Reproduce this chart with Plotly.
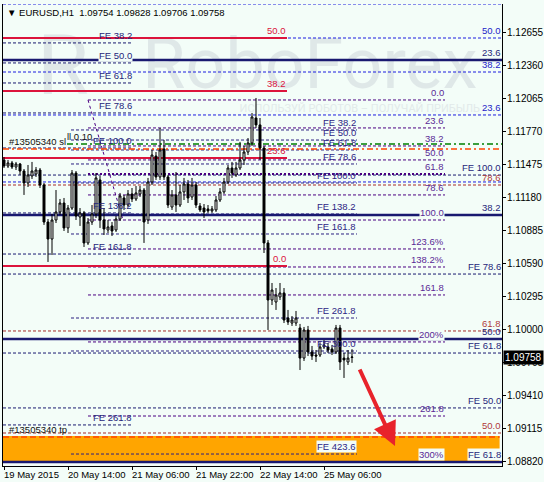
import plotly.graph_objects as go

# ---------------- data (EURUSD H1) ----------------
bars = list(range(88))
opens = [1.11520, 1.11466, 1.11493, 1.11457, 1.11484, 1.11421, 1.11314, 1.11377, 1.11394, 1.11430,
         1.11296, 1.10965, 1.10813, 1.10983, 1.11055, 1.11135, 1.10912, 1.11090, 1.11403, 1.11010,
         1.11046, 1.10778, 1.10965, 1.11037, 1.11341, 1.10983, 1.10894, 1.10930, 1.10894, 1.10992,
         1.11180, 1.11117, 1.11216, 1.11171, 1.11216, 1.11251, 1.10983, 1.11323, 1.11555, 1.11368,
         1.11618, 1.11368, 1.11099, 1.11207, 1.11117, 1.11234, 1.11305, 1.11189, 1.11296, 1.11108,
         1.11090, 1.11082, 1.11064, 1.11073, 1.11162, 1.11234, 1.11323, 1.11448, 1.11386, 1.11448,
         1.11520, 1.11591, 1.11672, 1.11895, 1.11833, 1.11627, 1.10778, 1.10268, 1.10250, 1.10295,
         1.10331, 1.10107, 1.10062, 1.10062, 1.10018, 1.09749, 1.10000, 1.09803, 1.09776, 1.09776,
         1.09848, 1.09848, 1.09830, 1.09803, 1.10018, 1.09749, 1.09714, 1.09754]
highs = [1.11546, 1.11520, 1.11511, 1.11502, 1.11493, 1.11439, 1.11475, 1.11502, 1.11457, 1.11448,
         1.11314, 1.10992, 1.11037, 1.11251, 1.11171, 1.11180, 1.11117, 1.11430, 1.11421, 1.11090,
         1.11064, 1.11001, 1.11117, 1.11403, 1.11377, 1.11090, 1.10983, 1.10965, 1.11019, 1.11225,
         1.11207, 1.11251, 1.11269, 1.11287, 1.11287, 1.11269, 1.11359, 1.11609, 1.11591, 1.11806,
         1.11698, 1.11386, 1.11251, 1.11412, 1.11296, 1.11359, 1.11341, 1.11359, 1.11323, 1.11135,
         1.11126, 1.11117, 1.11108, 1.11198, 1.11269, 1.11359, 1.11475, 1.11502, 1.11502, 1.11681,
         1.11645, 1.11716, 1.11940, 1.12074, 1.11895, 1.11645, 1.10804, 1.10420, 1.10375, 1.10420,
         1.10375, 1.10179, 1.10125, 1.10170, 1.10054, 1.10027, 1.10036, 1.09857, 1.09821, 1.09884,
         1.09910, 1.09884, 1.09866, 1.10045, 1.10045, 1.09794, 1.09821, 1.09828]
lows = [1.11448, 1.11448, 1.11439, 1.11430, 1.11386, 1.11207, 1.11278, 1.11350, 1.11368, 1.11269,
        1.10939, 1.10608, 1.10670, 1.10956, 1.11028, 1.10885, 1.10867, 1.11073, 1.10983, 1.10930,
        1.10742, 1.10760, 1.10939, 1.11001, 1.10912, 1.10849, 1.10867, 1.10840, 1.10876, 1.10974,
        1.11073, 1.11099, 1.11144, 1.11153, 1.11189, 1.10778, 1.10948, 1.11296, 1.11341, 1.11341,
        1.11341, 1.11090, 1.11073, 1.11055, 1.11099, 1.11162, 1.11135, 1.11162, 1.11090, 1.11055,
        1.11001, 1.11046, 1.11046, 1.11055, 1.11144, 1.11216, 1.11305, 1.11359, 1.11368, 1.11430,
        1.11475, 1.11564, 1.11645, 1.11806, 1.11520, 1.10688, 1.10000, 1.10223, 1.10179, 1.10268,
        1.10062, 1.10045, 1.10036, 1.10036, 1.09642, 1.09723, 1.09767, 1.09732, 1.09714, 1.09758,
        1.09830, 1.09794, 1.09776, 1.09785, 1.09642, 1.09571, 1.09687, 1.09706]
closes = [1.11466, 1.11493, 1.11457, 1.11484, 1.11421, 1.11314, 1.11386, 1.11421, 1.11430, 1.11296,
          1.10965, 1.10813, 1.10983, 1.11055, 1.11135, 1.10912, 1.11090, 1.11403, 1.11019, 1.11046,
          1.10778, 1.10965, 1.11037, 1.11359, 1.10983, 1.10903, 1.10921, 1.10885, 1.10992, 1.11198,
          1.11117, 1.11216, 1.11171, 1.11225, 1.11251, 1.10965, 1.11323, 1.11564, 1.11368, 1.11609,
          1.11368, 1.11117, 1.11207, 1.11117, 1.11234, 1.11305, 1.11180, 1.11296, 1.11117, 1.11073,
          1.11055, 1.11064, 1.11082, 1.11162, 1.11234, 1.11323, 1.11448, 1.11403, 1.11448, 1.11520,
          1.11591, 1.11672, 1.11904, 1.11833, 1.11627, 1.10778, 1.10268, 1.10357, 1.10313, 1.10331,
          1.10089, 1.10071, 1.10089, 1.10107, 1.09749, 1.10000, 1.09803, 1.09767, 1.09767, 1.09848,
          1.09866, 1.09821, 1.09803, 1.10018, 1.09714, 1.09732, 1.09749, 1.09758]

time_tick_bars = [0, 16, 32, 48, 64, 80]
time_tick_labels = ["19 May 2015", "20 May 14:00", "21 May 06:00", "21 May 22:00",
                    "22 May 14:00", "25 May 06:00"]
price_ticks = [1.12655, 1.12360, 1.12065, 1.11770, 1.11475, 1.11180, 1.10885,
               1.10590, 1.10295, 1.10000, 1.09705, 1.09410, 1.09115, 1.08820]
last_price = 1.09758

# Fibonacci objects (level prices and their labels)
red_levels = [1.12610, 1.12136, 1.11537, 1.10572]
red_labels = ["50.0", "38.2", "23.6", "0.0"]
blue_levels = [1.12914, 1.12610, 1.12306, 1.11922, 1.11323]
blue_labels = ["", "50.0", "38.2", "23.6", ""]
navy_levels = [1.12414, 1.11028, 1.09919, 1.08820]
navy_labels = ["23.6", "38.2", "50.0", "FE 61.8"]
purple_levels = [1.12056, 1.11806, 1.11645, 1.11520, 1.11394, 1.11207, 1.10983,
                 1.10724, 1.10563, 1.10313, 1.09893, 1.09231, 1.08820]
purple_labels = ["0.0", "23.6", "38.2", "50.0", "61.8", "78.6", "100.0",
                 "123.6%", "138.2%", "161.8", "200%", "261.8", "300%"]
brown_levels = [1.11296, 1.09991, 1.09079]
brown_labels = ["78.6", "61.8", "50.0"]
fe_left_levels = [1.12566, 1.12387, 1.12208, 1.11940, 1.11627, 1.11046, 1.10679, 1.09151]
fe_left_labels = ["FE 38.2", "FE 50.0", "FE 61.8", "FE 78.6", "FE 100.0", "FE 138.2", "FE 161.8", "FE 261.8"]
fe_mid_levels = [1.11788, 1.11698, 1.11609, 1.11484, 1.11314, 1.11037, 1.10858, 1.10107, 1.09812, 1.08891]
fe_mid_labels = ["FE 38.2", "FE 50.0", "FE 61.8", "FE 78.6", "FE 100.0", "FE 138.2",
                 "FE 161.8", "FE 261.8", "FE 300.0", "FE 423.6"]
fe_right_levels = [1.11385, 1.10500, 1.09794, 1.09303]
fe_right_labels = ["FE 100.0", "FE 78.6", "FE 61.8", "FE 50.0"]
sl_price = 1.11618
sell_price = 1.11663
tp_price = 1.09043
tp_zone = [1.08811, 1.09052]
fib_trend = ([21.0, 29.75], [1.12056, 1.10983])
arrow_from = (88.75, 1.09660)
arrow_to = (97.75, 1.08963)

# ---------------- styling ----------------
FONT = "Liberation Sans"
LBL = 9.5
BG = "#f3fdf8"
RED = "#dc143c"
NAVY = "#191970"
FE_TXT = "#26267a"
BLUE = "#1c1ce0"
PURPLE = "#4b0082"
PURPLE_TXT = "#5a2a96"
BROWN = "#a52a2a"
BROWN_TXT = "#b03a3a"

X0, X1 = -0.25, 124.5
LEFT_FE_END = 32.25
MID_FE = (16.75, 88.25)
PURP = (21.0, 110.25)
RED_END = 70.75
RIGHT = 124.5

shapes = []
annotations = []


def hline(y, x0, x1, color, width=1, dash="3px,2px"):
    shapes.append(dict(type="line", xref="x", yref="y", x0=x0, x1=x1, y0=y, y1=y,
                       line=dict(color=color, width=width, dash=dash), layer="below"))


def label(text, x, y, color, bg=None, anchor="right"):
    if not text:
        return
    annotations.append(dict(x=x, y=y, xref="x", yref="y", text=text, showarrow=False,
                            xanchor=anchor, yanchor="bottom", yshift=1,
                            font=dict(family=FONT, size=LBL, color=color),
                            bgcolor=bg if bg else "rgba(0,0,0,0)", borderpad=0))


# watermark
shapes.append(dict(type="rect", xref="paper", yref="paper", x0=0.26, x1=0.97, y0=0.80, y1=0.96,
                   line=dict(width=0), fillcolor="rgba(0,0,0,0)", layer="below",
                   label=dict(text="RoboForex", font=dict(family="Roboto", size=70, color="#dfe8e8"),
                              textposition="middle center")))
shapes.append(dict(type="rect", xref="paper", yref="paper", x0=0.05, x1=0.19, y0=0.80, y1=0.96,
                   line=dict(width=0), fillcolor="rgba(0,0,0,0)", layer="below",
                   label=dict(text="R", font=dict(family="Roboto", size=84, color="#dfe8e8"),
                              textposition="middle center")))
shapes.append(dict(type="rect", xref="paper", yref="paper", x0=0.46, x1=0.97, y0=0.76, y1=0.79,
                   line=dict(width=0), fillcolor="rgba(0,0,0,0)", layer="below",
                   label=dict(text="ИСПОЛЬЗУЙ РОБОТОВ – ПОЛУЧАЙ ПРИБЫЛЬ",
                              font=dict(family="Roboto", size=11, color="#e2eaea"),
                              textposition="middle center")))

# take-profit zone
shapes.append(dict(type="rect", xref="x", yref="y", x0=X0, x1=123.9, y0=tp_zone[0], y1=tp_zone[1],
                   fillcolor="#ffa500", line=dict(width=0), layer="below"))

# blue retracement
for lv, lb in zip(blue_levels, blue_labels):
    hline(lv, X0, RIGHT, BLUE)
    label(lb, RIGHT, lv, "#2323c8")
# brown retracement
for lv, lb in zip(brown_levels, brown_labels):
    hline(lv, X0, RIGHT, BROWN)
    label(lb, RIGHT, lv, BROWN_TXT)
# right FE
for lv, lb in zip(fe_right_levels, fe_right_labels):
    hline(lv, X0, RIGHT, NAVY)
    label(lb, RIGHT, lv, FE_TXT)
# left FE
for lv, lb in zip(fe_left_levels, fe_left_labels):
    hline(lv, X0, LEFT_FE_END, NAVY)
    label(lb, LEFT_FE_END, lv, FE_TXT, bg=BG if lb == "FE 50.0" else None)
# middle FE
for lv, lb in zip(fe_mid_levels, fe_mid_labels):
    hline(lv, MID_FE[0], MID_FE[1], "#2a1f80")
    label(lb, MID_FE[1], lv, "#2e2484",
          bg=BG if lb in ("FE 138.2", "FE 423.6") else None)
# purple retracement / expansion
for lv, lb in zip(purple_levels, purple_labels):
    if lb == "61.8":
        hline(lv, PURP[0], PURP[1], PURPLE, width=2, dash="2px,2px")
    else:
        hline(lv, PURP[0], PURP[1], PURPLE)
    label(lb, PURP[1], lv, PURPLE_TXT,
          bg=BG if lb in ("100.0", "200%", "300%") else None)
shapes.append(dict(type="line", xref="x", yref="y", x0=fib_trend[0][0], x1=fib_trend[0][1],
                   y0=fib_trend[1][0], y1=fib_trend[1][1],
                   line=dict(color=PURPLE, width=1, dash="dot"), layer="below"))
# red solid
for lv, lb in zip(red_levels, red_labels):
    hline(lv, X0, RED_END, RED, width=2, dash="solid")
    label(lb, RED_END, lv, RED)
# navy solid
for lv, lb in zip(navy_levels, navy_labels):
    hline(lv, X0, RIGHT, NAVY, width=2.5, dash="solid")
    label(lb, RIGHT, lv, FE_TXT, bg=BG if lb == "FE 61.8" else None)

# order lines
hline(sell_price, 15.75, RIGHT, "#008000", width=1.5, dash="6px,3px,2px,3px")
hline(sl_price, X0, RIGHT, "#ff4500", width=1.5, dash="6px,3px,2px,3px")
hline(tp_price, X0, 123.9, "#ff4500", width=1.5, dash="6px,3px")
label("#13505340 sl", 1.0, sl_price, "#101010", anchor="left")
label("ll 0.10", 15.6, sell_price, "#101010", anchor="left")
label("#13505340 tp", 1.0, tp_price, "#101010", anchor="left")

# time labels (left-aligned at tick like the terminal)
for b, t in zip(time_tick_bars, time_tick_labels):
    annotations.append(dict(x=b, y=0, xref="x", yref="paper", text=t, showarrow=False,
                            xanchor="left", yanchor="top", xshift=-2, yshift=-1,
                            font=dict(family=FONT, size=LBL, color="#000000")))

# price labels (left-aligned next to the right axis)
for p in price_ticks:
    annotations.append(dict(x=1, y=p, xref="paper", yref="y", text=f"{p:.5f}", showarrow=False,
                            xanchor="left", yanchor="middle", xshift=3,
                            font=dict(family=FONT, size=10, color="#000000")))

# header
annotations.append(dict(x=0, y=1, xref="paper", yref="paper", xanchor="left", yanchor="top",
                        xshift=2, yshift=-1, showarrow=False,
                        text="▼ EURUSD,H1  1.09754 1.09828 1.09706 1.09758",
                        font=dict(family=FONT, size=LBL, color="#000000")))

# last price tag
annotations.append(dict(x=1, y=last_price, xref="paper", yref="y", xanchor="left", yanchor="middle",
                        xshift=1, showarrow=False, text="1.09758", bgcolor="#000000", borderpad=1,
                        font=dict(family=FONT, size=10, color="#ffffff")))

# red arrow
annotations.append(dict(x=arrow_to[0], y=arrow_to[1], ax=arrow_from[0], ay=arrow_from[1],
                        xref="x", yref="y", axref="x", ayref="y", showarrow=True,
                        arrowhead=2, arrowsize=1.2, arrowwidth=4, arrowcolor="#e8232b", text=""))

fig = go.Figure()
fig.add_trace(go.Candlestick(
    x=bars, open=opens, high=highs, low=lows, close=closes,
    increasing=dict(line=dict(color="#000000", width=1), fillcolor="#ffffff"),
    decreasing=dict(line=dict(color="#000000", width=1), fillcolor="#000000"),
    whiskerwidth=0, showlegend=False, hoverinfo="skip"))

fig.update_layout(
    width=544, height=482,
    margin=dict(l=3, r=42, t=4, b=16),
    paper_bgcolor=BG, plot_bgcolor=BG,
    showlegend=False,
    shapes=shapes, annotations=annotations,
    font=dict(family=FONT, size=10, color="#000000"),
    xaxis=dict(range=[X0, X1], showgrid=False, zeroline=False, showline=True, linecolor="#000000",
               linewidth=1, ticks="outside", ticklen=3, tickcolor="#000000",
               tickvals=time_tick_bars, showticklabels=False, rangeslider=dict(visible=False),
               fixedrange=True),
    yaxis=dict(range=[1.08784, 1.12914], side="right", showgrid=False, zeroline=False,
               showline=True, linecolor="#000000", linewidth=1, mirror=True,
               ticks="outside", ticklen=3, tickcolor="#000000",
               tickvals=price_ticks, showticklabels=False, fixedrange=True),
)

fig.write_html("out.html", config={"displayModeBar": False},
               post_script="document.body.style.margin='0px';document.body.style.padding='0px';")
